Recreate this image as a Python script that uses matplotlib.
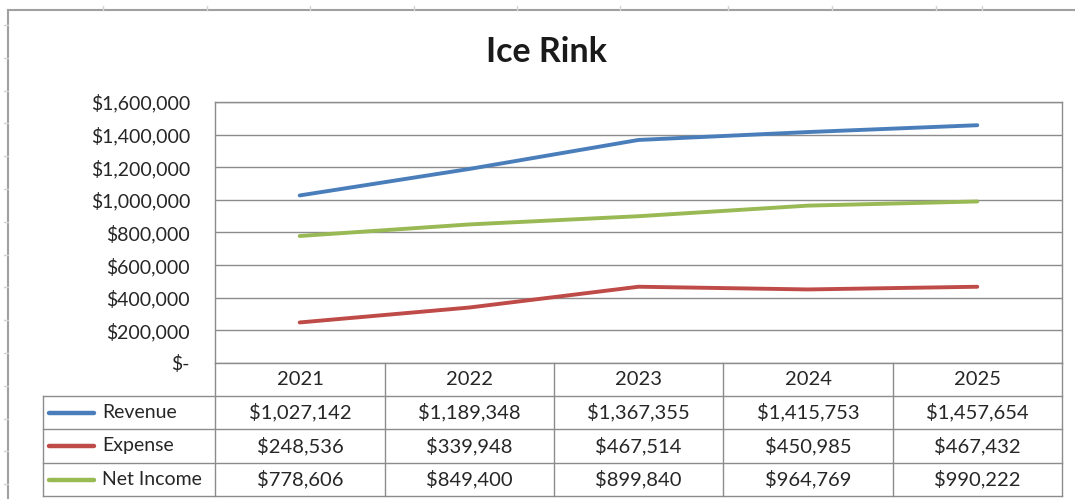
import matplotlib.pyplot as plt
from matplotlib.lines import Line2D

years = ["2021", "2022", "2023", "2024", "2025"]
series = ["Revenue", "Expense", "Net Income"]
revenue = [1027142, 1189348, 1367355, 1415753, 1457654]
expense = [248536, 339948, 467514, 450985, 467432]
net_income = [778606, 849400, 899840, 964769, 990222]
yticks = [0, 200000, 400000, 600000, 800000, 1000000, 1200000, 1400000, 1600000]

colors = ["#4a7ebb", "#be4b48", "#98b954"]
grid_c = "#8c8c8c"
W, H = 1075, 499


def fx(x):
    return x / W


def fy(y):
    return 1 - y / H


def hline(fig, x0, x1, y, c=grid_c, lw=1.0):
    fig.add_artist(Line2D([fx(x0), fx(x1)], [fy(y), fy(y)], color=c, lw=lw))


def vline(fig, x, y0, y1, c=grid_c, lw=1.0):
    fig.add_artist(Line2D([fx(x), fx(x)], [fy(y0), fy(y1)], color=c, lw=lw))


plt.rcParams['font.family'] = ['Lato', 'DejaVu Sans']
fig = plt.figure(figsize=(W / 100, H / 100), dpi=100)

# plot area in pixels
L, R, T, B = 215, 1062, 102, 363
ax = fig.add_axes([fx(L), fy(B), fx(R) - fx(L), fy(T) - fy(B)])
data = [revenue, expense, net_income]
for vals, c in zip(data, colors):
    ax.plot(range(len(years)), vals, color=c, lw=2.8, solid_capstyle='round')
ax.set_xlim(-0.5, len(years) - 0.5)
ax.set_ylim(0, 1600000)
ax.set_yticks(yticks)
ax.set_yticklabels(["$-" if v == 0 else "${:,}".format(v) for v in yticks])
ax.set_xticks([])
ax.tick_params(axis='y', length=0, pad=18, labelsize=14, labelcolor="#262626")
ax.grid(axis='y', color=grid_c, lw=1.0)
ax.set_axisbelow(True)
for s in ax.spines.values():
    s.set_color(grid_c)
    s.set_linewidth(1.0)

fig.text(fx(546), fy(52), "Ice Rink", ha='center', va='center', fontsize=24.5, fontweight='bold', color="#1a1a1a")

# data table
cols = [215, 385, 554, 723, 893, 1062]
rows = [363, 396, 429, 463, 496]
tl = 43
fs = 14.5
for y in rows[1:]:
    hline(fig, tl, R, y)
for x in cols:
    vline(fig, x, rows[0], rows[-1])
vline(fig, tl, rows[1], rows[-1])

for i, yr in enumerate(years):
    xc = (cols[i] + cols[i + 1]) / 2
    fig.text(fx(xc), fy((rows[0] + rows[1]) / 2), yr, ha='center', va='center', fontsize=fs, color="#262626")
for j, (name, vals, c) in enumerate(zip(series, data, colors)):
    yc = (rows[j + 1] + rows[j + 2]) / 2
    fig.add_artist(Line2D([fx(49), fx(94)], [fy(yc), fy(yc)], color=c, lw=3.2, solid_capstyle='round'))
    fig.text(fx(102), fy(yc), name, ha='left', va='center', fontsize=14, color="#262626")
    for i, v in enumerate(vals):
        xc = (cols[i] + cols[i + 1]) / 2
        fig.text(fx(xc), fy(yc), "${:,}".format(v), ha='center', va='center', fontsize=fs, color="#262626")

# chart border and spreadsheet grid peeking out
hline(fig, 8, W, 10, c="#a0a0a0", lw=1.5)
vline(fig, 8, 10, H, c="#a0a0a0", lw=1.5)
for x in [103, 207, 310, 414, 517, 620, 728, 832, 936, 982]:
    vline(fig, x, 6, 10, c="#d4d4d4")
for k in range(15):
    y = 25 + k * 32.8
    hline(fig, 4, 8, y, c="#d4d4d4")

fig.savefig("out.png", dpi=100)
